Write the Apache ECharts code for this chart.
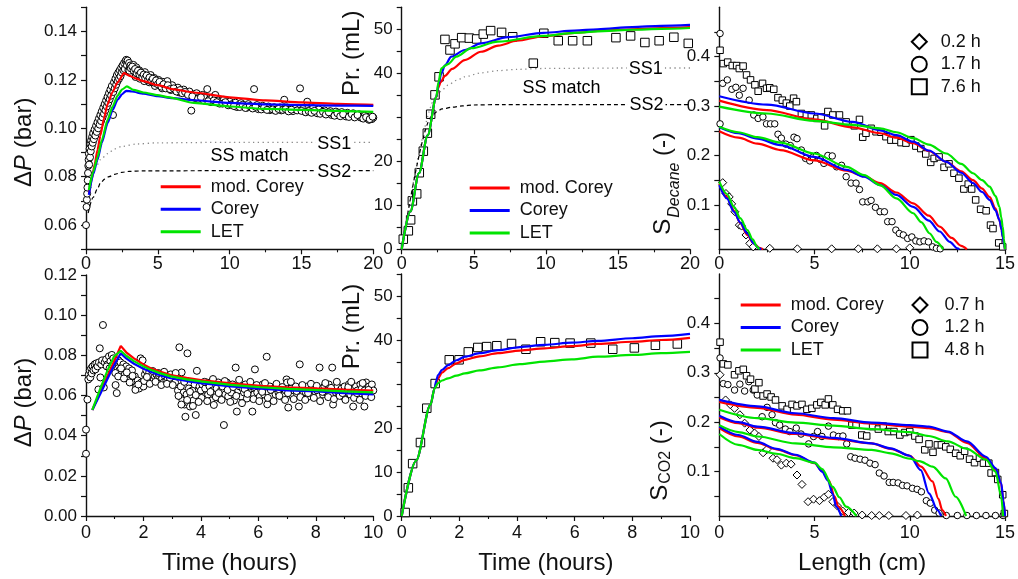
<!DOCTYPE html>
<html><head><meta charset="utf-8">
<script src="https://cdn.jsdelivr.net/npm/echarts@6/dist/echarts.min.js"></script>
<style>html,body{margin:0;padding:0;background:#fff}#c{width:1018px;height:579px}</style>
</head><body><div id="c"></div>
<script>
// ---------------- DATA ----------------
const modelNames = ['mod. Corey', 'Corey', 'LET'];
const timesDecane = ['0.2 h', '1.7 h', '7.6 h'];
const timesCO2 = ['0.7 h', '1.2 h', '4.8 h'];

const dpTopTickLabels = ['0.06', '0.08', '0.10', '0.12', '0.14'];
const dpBottomTickLabels = ['0.00', '0.02', '0.04', '0.06', '0.08', '0.10', '0.12'];
const prodTickLabels = ['0', '10', '20', '40', '50'];
const satTickLabels = ['0.1', '0.2', '0.3', '0.4'];
const satTickMarks = [0.05, 0.1, 0.15, 0.2, 0.25, 0.3, 0.35, 0.4, 0.45];

// (a) pressure drop, decane
const dpDecaneObs = [[0,0.060],[0.04,0.0675],[0.06,0.0705],[0.08,0.073],[0.1,0.0755],[0.12,0.0785],[0.14,0.0815],[0.16,0.0845],[0.18,0.087],[0.2,0.0895],[0.22,0.085],[0.25,0.0915],[0.28,0.088],[0.3,0.0935],[0.33,0.0905],[0.36,0.095],[0.4,0.0925],[0.43,0.0965],[0.47,0.094],[0.5,0.098],[0.55,0.0955],[0.6,0.0995],[0.65,0.097],[0.7,0.101],[0.75,0.0985],[0.8,0.1025],[0.85,0.100],[0.9,0.104],[0.95,0.1015],[1.0,0.1055],[1.05,0.103],[1.1,0.107],[1.15,0.1045],[1.2,0.1085],[1.25,0.106],[1.3,0.110],[1.35,0.1075],[1.4,0.1115],[1.45,0.109],[1.5,0.113],[1.55,0.1105],[1.6,0.1145],[1.65,0.112],[1.7,0.116],[1.75,0.1135],[1.8,0.1175],[1.88,0.1055],[1.9,0.115],[1.95,0.119],[2.0,0.1165],[2.05,0.1205],[2.1,0.118],[2.15,0.122],[2.2,0.1195],[2.25,0.123],[2.3,0.1205],[2.35,0.124],[2.4,0.1215],[2.45,0.125],[2.5,0.123],[2.55,0.126],[2.6,0.124],[2.65,0.127],[2.7,0.1245],[2.75,0.1278],[2.8,0.1283],[2.85,0.126],[2.9,0.128],[2.95,0.124],[3.0,0.127],[3.05,0.125],[3.1,0.126],[3.15,0.1228],[3.2,0.124],[3.3,0.1262],[3.4,0.1232],[3.45,0.1212],[3.5,0.1252],[3.6,0.1225],[3.7,0.124],[3.75,0.1205],[3.8,0.122],[3.9,0.123],[4.0,0.121],[4.05,0.1195],[4.1,0.1232],[4.2,0.1202],[4.35,0.1215],[4.4,0.119],[4.5,0.122],[4.6,0.1192],[4.75,0.1208],[4.8,0.1175],[4.9,0.1188],[5.05,0.120],[5.2,0.118],[5.3,0.1165],[5.35,0.1192],[5.5,0.1175],[5.66,0.1195],[5.8,0.117],[5.9,0.1158],[6.0,0.1178],[6.2,0.116],[6.4,0.1168],[6.5,0.1148],[6.6,0.1155],[6.8,0.116],[7.0,0.1145],[7.2,0.1152],[7.33,0.1073],[7.5,0.114],[7.6,0.1125],[7.7,0.1145],[7.9,0.113],[8.1,0.1138],[8.2,0.1115],[8.3,0.1125],[8.44,0.1162],[8.6,0.112],[8.7,0.1108],[8.8,0.1128],[9.0,0.1138],[9.2,0.1115],[9.3,0.1102],[9.4,0.111],[9.6,0.1118],[9.8,0.1105],[9.9,0.1095],[10.0,0.111],[10.2,0.110],[10.4,0.1106],[10.5,0.1088],[10.6,0.1096],[10.8,0.1104],[11.0,0.1094],[11.2,0.1085],[11.3,0.110],[11.5,0.109],[11.7,0.1162],[11.9,0.1096],[12.0,0.1079],[12.1,0.1086],[12.3,0.1093],[12.5,0.1083],[12.7,0.109],[12.8,0.1075],[12.9,0.1081],[13.1,0.1087],[13.3,0.1079],[13.5,0.1086],[13.6,0.1074],[13.8,0.1118],[14.0,0.1086],[14.2,0.1078],[14.4,0.1071],[14.5,0.1083],[14.9,0.1165],[15.1,0.108],[15.2,0.1069],[15.4,0.111],[15.6,0.1076],[15.8,0.1083],[16.0,0.107],[16.1,0.1062],[16.2,0.1078],[16.4,0.1066],[16.6,0.1074],[16.8,0.1063],[17.0,0.1071],[17.1,0.1055],[17.2,0.106],[17.4,0.1069],[17.6,0.1058],[17.8,0.1067],[18.0,0.1057],[18.1,0.1049],[18.2,0.1064],[18.4,0.1054],[18.6,0.1062],[18.8,0.1052],[19.0,0.1058],[19.1,0.1045],[19.2,0.1044],[19.4,0.1052],[19.6,0.1041],[19.7,0.1035],[19.8,0.105],[19.9,0.1038],[20.0,0.1044],
[3.02,0.1238],[3.12,0.1248],[3.22,0.1255],[3.32,0.1238],[3.42,0.1245],[3.52,0.1228],[3.62,0.1238],[3.72,0.1222],[3.82,0.123],[3.92,0.1212],[4.02,0.1222],[4.12,0.1208],[4.22,0.1218],[4.32,0.1198],[4.42,0.121],[4.55,0.1195],[4.65,0.1205],[4.78,0.1188],[4.88,0.1198],[5.0,0.1182],[5.12,0.1192],[5.25,0.1172],[5.4,0.1182],[5.55,0.1165],[5.7,0.1178],[5.85,0.1162],[6.1,0.1165],[6.3,0.1152],[6.55,0.1158],[6.7,0.1145],[6.9,0.115],[7.1,0.1138],[7.4,0.1132],[7.8,0.1122],[8.0,0.1128],[8.5,0.1112],[8.9,0.1115],[9.1,0.1108],[9.5,0.1102],[9.7,0.1108],[10.1,0.1098],[10.3,0.1092],[10.7,0.1088],[10.9,0.1097],[11.1,0.1084],[11.4,0.1092],[11.6,0.1082],[11.8,0.1089],[12.2,0.1078],[12.4,0.1086],[12.6,0.1076],[13.0,0.1078],[13.2,0.1072],[13.4,0.108],[13.7,0.1076],[13.9,0.1079],[14.1,0.107],[14.3,0.1077],[14.7,0.1074],[15.0,0.1072],[15.3,0.1066],[15.5,0.1071],[15.7,0.1064],[15.9,0.1072],[16.3,0.106],[16.5,0.1068],[16.7,0.1057],[16.9,0.1066],[17.3,0.1052],[17.5,0.1062],[17.7,0.105],[17.9,0.1058],[18.3,0.1047],[18.5,0.1058],[18.7,0.1045],[18.9,0.1055],[19.3,0.104],[19.5,0.1046],[19.75,0.1038],[19.95,0.1048]];
const dpDecaneModCorey = [[0.2,0.073],[0.4,0.079],[0.6,0.085],[0.8,0.091],[1.0,0.097],[1.25,0.104],[1.5,0.110],[1.85,0.115],[2.2,0.119],[2.65,0.1228],[3.0,0.1218],[3.5,0.1205],[4.0,0.1195],[5.0,0.1178],[6.0,0.1162],[7.5,0.1148],[10,0.1128],[12.5,0.1115],[15,0.1107],[17.5,0.1101],[20,0.1097]];
const dpDecaneCorey = [[0.2,0.0725],[0.5,0.081],[0.8,0.087],[1.1,0.094],[1.5,0.1021],[1.85,0.1075],[2.2,0.1118],[2.5,0.114],[2.8,0.1155],[3.2,0.1152],[4.0,0.1143],[5.0,0.1133],[6.0,0.1125],[7.5,0.1116],[10,0.1105],[12.5,0.1099],[15,0.1096],[17.5,0.1094],[20,0.1093]];
const dpDecaneLET = [[0.2,0.0745],[0.5,0.082],[0.8,0.088],[1.1,0.095],[1.5,0.1035],[1.85,0.109],[2.2,0.1135],[2.5,0.116],[2.85,0.1173],[3.3,0.1159],[4.0,0.1148],[5.0,0.1137],[5.7,0.1129],[7.5,0.1105],[10,0.109],[12.5,0.108],[15,0.1076],[17.5,0.1072],[20,0.1068]];
const dpDecaneSS1 = [[0.1,0.074],[0.4,0.080],[0.7,0.084],[1.0,0.087],[1.5,0.0895],[2.0,0.0915],[2.5,0.0925],[3.5,0.0935],[5,0.094],[10,0.0942],[20,0.0942]];
const dpDecaneSS2 = [[0.15,0.065],[0.5,0.0715],[0.8,0.075],[1.0,0.0773],[1.3,0.079],[1.6,0.080],[2.0,0.081],[2.5,0.0818],[3.0,0.0822],[4,0.0824],[10,0.0825],[20,0.0825]];
const annotDecaneDP = [['SS1',17.3,0.0935],['SS2',17.3,0.0818],['SS match',11.4,0.0883]];

// (b) production, decane
const prodDecaneObs = [[0.11,2.3],[0.46,4.2],[0.62,6.7],[0.74,11.0],[1.04,12.6],[1.22,17.4],[1.5,22.3],[1.78,26.4],[2.01,30.7],[2.31,35.1],[2.59,39.2],[3.0,47.7],[3.35,45.3],[3.7,46.7],[4.16,48.1],[4.69,48.0],[5.2,47.8],[5.66,48.9],[6.17,49.7],[6.93,49.3],[7.7,48.3],[9.13,42.3],[9.86,49.1],[10.86,47.4],[11.86,47.4],[12.88,47.4],[14.86,48.1],[15.88,48.5],[16.87,47.0],[17.86,47.4],[18.88,48.2],[19.88,46.8]];
const prodDecaneModCorey = [[0,0],[0.6,8.6],[1.2,17.3],[1.8,25.9],[2.4,34.6],[2.55,36.8],[2.7,38.0],[3.0,39.4],[3.5,41.0],[4.37,43.0],[5.5,44.9],[6.7,46.3],[8,47.4],[9.8,48.4],[12,49.2],[14,49.7],[16,50.0],[18,50.3],[20,50.5]];
const prodDecaneCorey = [[0,0],[0.6,8.6],[1.2,17.3],[1.8,25.9],[2.4,34.6],[2.55,37.5],[2.75,40.0],[3.0,41.8],[3.44,43.8],[4.37,45.3],[5.5,46.8],[7.37,48.2],[9.84,49.2],[12,49.7],[13.6,50.0],[16,50.5],[18,50.8],[20,51.0]];
const prodDecaneLET = [[0,0],[0.6,8.6],[1.2,17.3],[1.8,25.9],[2.4,34.6],[2.55,38.0],[2.75,41.1],[3.0,41.7],[3.21,42.1],[3.79,43.8],[4.83,45.7],[6.68,47.2],[9.84,48.5],[12,49.2],[14,49.6],[16,49.9],[18,50.1],[20,50.3]];
const prodDecaneSS1 = [[0,0],[2.4,34.6],[2.8,36.2],[3.21,37.3],[3.8,38.4],[4.37,39.2],[5.5,40.1],[6.68,40.6],[8,40.9],[10,41.1],[15,41.2],[20,41.2]];
const prodDecaneSS2 = [[0,0],[2.1,30.2],[2.4,31.2],[2.8,31.9],[3.5,32.3],[4.2,32.6],[5,32.8],[7,32.9],[20,32.9]];
const annotDecaneProd = [['SS1',16.95,40.9],['SS2',17.0,32.8],['SS match',11.1,36.6]];

// (c) decane saturation profiles
const satDecane02Obs = [[0.18,0.145],[0.35,0.123],[0.52,0.116],[0.65,0.102],[0.82,0.086],[1.05,0.059],[1.17,0.057],[1.4,0.039],[1.6,0.022],[1.78,0.015],[2.65,0.012],[4.1,0.011],[5.9,0.011],[7.3,0.011],[8.3,0.011],[9.3,0.011],[10.0,0.013]];
const satDecane17Obs = [[0.04,0.447],[0.04,0.264],[0.18,0.346],[0.42,0.353],[0.66,0.334],[0.87,0.338],[1.05,0.322],[1.25,0.336],[1.57,0.312],[1.81,0.282],[2.04,0.275],[2.29,0.278],[2.48,0.264],[2.69,0.264],[2.91,0.264],[3.08,0.243],[3.26,0.235],[3.49,0.223],[3.73,0.220],[3.92,0.237],[4.08,0.234],[4.31,0.211],[4.53,0.194],[4.75,0.189],[4.93,0.197],[5.1,0.200],[5.31,0.192],[5.49,0.184],[5.7,0.200],[5.93,0.199],[6.16,0.177],[6.42,0.180],[6.66,0.157],[6.92,0.144],[7.18,0.144],[7.36,0.131],[7.53,0.106],[7.8,0.106],[7.97,0.109],[8.2,0.095],[8.44,0.086],[8.67,0.086],[8.84,0.066],[9.07,0.066],[9.27,0.049],[9.45,0.042],[9.66,0.039],[9.89,0.032],[10.11,0.035],[10.32,0.027],[10.53,0.025],[10.75,0.027],[10.98,0.025],[11.2,0.015],[11.4,0.012],[11.6,0.011]];
const satDecane76Obs = [[0.04,0.413],[0.21,0.386],[0.44,0.389],[0.68,0.382],[0.91,0.382],[1.05,0.376],[1.25,0.381],[1.43,0.363],[1.64,0.353],[1.87,0.343],[2.04,0.330],[2.27,0.346],[2.48,0.336],[2.65,0.337],[2.86,0.334],[3.08,0.317],[3.31,0.312],[3.52,0.306],[3.7,0.300],[3.9,0.316],[4.05,0.309],[4.31,0.285],[4.57,0.282],[4.83,0.282],[5.12,0.275],[5.35,0.278],[5.53,0.260],[5.7,0.289],[5.96,0.282],[6.31,0.282],[6.66,0.268],[7.09,0.260],[7.36,0.273],[7.53,0.237],[7.7,0.245],[7.97,0.255],[8.23,0.248],[8.49,0.247],[8.75,0.238],[9.01,0.231],[9.27,0.231],[9.54,0.226],[9.8,0.225],[10.06,0.232],[10.32,0.219],[10.58,0.214],[10.84,0.203],[11.1,0.186],[11.28,0.194],[11.54,0.197],[11.8,0.176],[12.06,0.183],[12.32,0.164],[12.58,0.154],[12.84,0.132],[13.07,0.142],[13.25,0.132],[13.46,0.110],[13.72,0.091],[14.01,0.088],[14.24,0.059],[14.37,0.052],[14.67,0.023],[14.88,0.015]];
const satDecane02ModCorey = [[0,0.143],[0.4,0.116],[0.77,0.088],[1.1,0.063],[1.47,0.039],[1.8,0.022],[2.1,0.013],[2.3,0.01]];
const satDecane02Corey = [[0,0.140],[0.4,0.113],[0.77,0.086],[1.1,0.064],[1.47,0.042],[1.81,0.022],[2.05,0.013],[2.2,0.01]];
const satDecane02LET = [[0,0.147],[0.4,0.122],[0.77,0.096],[1.1,0.073],[1.47,0.049],[1.75,0.030],[1.99,0.015],[2.1,0.01]];
const satDecane17ModCorey = [[0,0.249],[1,0.236],[2,0.224],[3.21,0.211],[4.98,0.190],[6.69,0.169],[7.6,0.158],[8.44,0.144],[9.3,0.125],[10.18,0.103],[11,0.078],[11.57,0.056],[12.2,0.033],[12.7,0.017],[13.0,0.01]];
const satDecane17Corey = [[0,0.257],[1,0.245],[2,0.234],[3.21,0.221],[4.98,0.197],[6.69,0.171],[7.6,0.157],[8.44,0.140],[9.3,0.120],[10.18,0.096],[11,0.068],[11.57,0.046],[12.1,0.025],[12.5,0.012],[12.6,0.01]];
const satDecane17LET = [[0,0.258],[1,0.247],[2,0.237],[3.21,0.226],[4.98,0.204],[6.69,0.177],[7.6,0.160],[8.44,0.140],[9.3,0.113],[10.18,0.083],[10.6,0.065],[11.05,0.042],[11.4,0.025],[11.75,0.01]];
const satDecane76ModCorey = [[0,0.311],[2.5,0.292],[4.98,0.273],[7,0.257],[8.44,0.245],[9.3,0.236],[10.18,0.225],[11,0.209],[11.92,0.187],[12.7,0.168],[13.32,0.150],[13.8,0.133],[14.19,0.116],[14.5,0.093],[14.71,0.069],[14.82,0.050],[14.88,0.035],[14.95,0.02],[15,0.01]];
const satDecane76Corey = [[0,0.320],[2.5,0.303],[5,0.285],[7,0.268],[8.44,0.251],[9.3,0.241],[10.18,0.228],[11,0.210],[11.92,0.187],[12.7,0.165],[13.32,0.144],[13.8,0.126],[14.19,0.110],[14.5,0.089],[14.71,0.069],[14.82,0.050],[14.88,0.035],[14.95,0.02],[15,0.01]];
const satDecane76LET = [[0,0.299],[2.5,0.285],[4.98,0.270],[7,0.262],[8.44,0.255],[9.3,0.247],[10.18,0.235],[11,0.222],[11.92,0.204],[12.7,0.183],[13.32,0.164],[13.8,0.150],[14.19,0.137],[14.5,0.118],[14.71,0.096],[14.8,0.075],[14.88,0.056],[14.95,0.03],[15,0.01]];

// (d) pressure drop, CO2
const dpCO2Obs = [[0.0,0.031],[0.0,0.043],[0.05,0.058],[0.08,0.068],[0.1,0.0705],[0.13,0.0725],[0.15,0.069],[0.18,0.0735],[0.2,0.071],[0.23,0.0745],[0.26,0.0725],[0.3,0.0755],[0.33,0.073],[0.36,0.076],[0.4,0.0745],[0.43,0.063],[0.45,0.0765],[0.48,0.0835],[0.5,0.069],[0.53,0.0755],[0.56,0.0775],[0.59,0.0951],[0.62,0.064],[0.65,0.0765],[0.7,0.078],[0.75,0.0755],[0.8,0.0795],[0.85,0.077],[0.9,0.0802],[0.95,0.0785],[1.0,0.0755],[1.03,0.0652],[1.07,0.0612],[1.1,0.0735],[1.13,0.0775],[1.16,0.0725],[1.2,0.0765],[1.25,0.0715],[1.3,0.0755],[1.35,0.0705],[1.4,0.0745],[1.45,0.0695],[1.5,0.0735],[1.55,0.0705],[1.6,0.0725],[1.65,0.0665],[1.7,0.0695],[1.75,0.0645],[1.8,0.0675],[1.85,0.0635],[1.9,0.0785],[1.93,0.0665],[1.97,0.0775],[2.0,0.0645],[2.05,0.0705],[2.1,0.0725],[2.15,0.0695],[2.2,0.0715],[2.25,0.0685],[2.3,0.0705],[2.35,0.0675],[2.4,0.0695],[2.45,0.0705],[2.5,0.0685],[2.55,0.0695],[2.6,0.0675],[2.65,0.0685],[2.7,0.0665],[2.75,0.0695],[2.8,0.0675],[2.85,0.0685],[2.9,0.0665],[2.95,0.0705],[3.0,0.0675],[3.05,0.0685],[3.1,0.0665],[3.15,0.0695],[3.2,0.0625],[3.25,0.084],[3.28,0.0595],[3.3,0.0645],[3.33,0.0715],[3.36,0.0575],[3.4,0.0615],[3.43,0.0555],[3.46,0.0494],[3.5,0.0605],[3.53,0.081],[3.55,0.0565],[3.58,0.0635],[3.62,0.0545],[3.65,0.0595],[3.7,0.0625],[3.74,0.0575],[3.78,0.0655],[3.82,0.0503],[3.86,0.0723],[3.9,0.0605],[3.95,0.0645],[4.0,0.0625],[4.05,0.0655],[4.1,0.0595],[4.15,0.0635],[4.2,0.0665],[4.25,0.0605],[4.3,0.0645],[4.35,0.0575],[4.4,0.0625],[4.45,0.0553],[4.5,0.0605],[4.55,0.0635],[4.6,0.0665],[4.65,0.0585],[4.7,0.0625],[4.75,0.0645],[4.8,0.0453],[4.85,0.0605],[4.9,0.0665],[4.95,0.0595],[5.0,0.0635],[5.05,0.0615],[5.1,0.0655],[5.15,0.0575],[5.21,0.0739],[5.25,0.052],[5.3,0.0625],[5.35,0.0645],[5.4,0.0595],[5.45,0.0635],[5.5,0.0615],[5.55,0.0655],[5.6,0.0585],[5.65,0.0625],[5.7,0.0645],[5.79,0.052],[5.85,0.0605],[5.88,0.073],[5.92,0.0635],[5.96,0.0615],[6.0,0.0645],[6.05,0.0595],[6.1,0.0625],[6.15,0.0655],[6.2,0.0605],[6.25,0.0635],[6.29,0.0793],[6.31,0.0556],[6.35,0.0615],[6.4,0.0645],[6.45,0.0595],[6.5,0.0625],[6.55,0.0635],[6.6,0.0605],[6.65,0.0645],[6.7,0.0615],[6.75,0.0625],[6.8,0.0595],[6.85,0.0635],[6.9,0.0605],[6.95,0.0625],[6.98,0.068],[7.0,0.0665],[7.04,0.054],[7.1,0.0615],[7.15,0.0635],[7.2,0.0595],[7.25,0.0625],[7.3,0.0645],[7.35,0.0605],[7.41,0.0545],[7.44,0.0755],[7.5,0.0625],[7.55,0.0605],[7.6,0.0635],[7.65,0.0615],[7.7,0.0645],[7.75,0.0595],[7.8,0.0625],[7.85,0.0635],[7.9,0.0605],[7.95,0.0645],[8.0,0.0615],[8.05,0.0625],[8.1,0.0595],[8.13,0.0739],[8.2,0.0635],[8.25,0.0605],[8.3,0.0645],[8.35,0.0615],[8.4,0.0625],[8.45,0.0655],[8.5,0.0605],[8.57,0.0739],[8.6,0.0555],[8.65,0.0635],[8.7,0.0615],[8.75,0.0645],[8.8,0.0605],[8.85,0.0625],[8.9,0.0635],[8.95,0.0595],[9.0,0.0645],[9.05,0.0615],[9.1,0.0625],[9.15,0.0655],[9.2,0.0605],[9.3,0.0545],[9.35,0.0615],[9.4,0.0645],[9.45,0.0625],[9.5,0.0605],[9.55,0.0655],[9.6,0.0635],[9.69,0.0545],[9.7,0.0625],[9.75,0.0665],[9.8,0.0605],[9.85,0.0645],[9.9,0.0615],[9.95,0.0655],[10.0,0.0625],
[4.02,0.0588],[4.12,0.0668],[4.22,0.0572],[4.33,0.0618],[4.42,0.0682],[4.52,0.0592],[4.62,0.0612],[4.72,0.0578],[4.83,0.0672],[4.93,0.0628],[5.02,0.0568],[5.12,0.0642],[5.23,0.0598],[5.33,0.0678],[5.43,0.0562],[5.52,0.0632],[5.62,0.0608],[5.72,0.0668],[5.83,0.0582],[5.94,0.0652],[6.03,0.0572],[6.13,0.0618],[6.23,0.0662],[6.33,0.0588],[6.43,0.0628],[6.53,0.0572],[6.63,0.0658],[6.73,0.0598],[6.83,0.0642],[6.93,0.0578],[7.03,0.0612],[7.13,0.0668],[7.23,0.0582],[7.33,0.0622],[7.46,0.0592],[7.53,0.0652],[7.63,0.0578],[7.73,0.0612],[7.83,0.0658],[7.93,0.0588],[8.03,0.0648],[8.15,0.0572],[8.23,0.0618],[8.33,0.0662],[8.43,0.0592],[8.53,0.0638],[8.63,0.0582],[8.73,0.0668],[8.83,0.0598],[8.93,0.0612],[9.03,0.0578],[9.13,0.0642],[9.23,0.0668],[9.33,0.0588],[9.43,0.0612],[9.53,0.0578],[9.63,0.0662],[9.73,0.0598],[9.83,0.0628],[9.93,0.0592],[2.02,0.0672],[2.12,0.0692],[2.22,0.0658],[2.32,0.0722],[2.42,0.0668],[2.52,0.0712],[2.62,0.0652],[2.72,0.0718],[2.82,0.0658],[2.92,0.0688],[3.02,0.0652],[3.12,0.0712],[3.22,0.0598],[3.32,0.0555],[3.42,0.0668],[3.52,0.0578],[3.62,0.0618],[3.72,0.0548],[3.82,0.0602],[3.92,0.0568],[1.02,0.0712],[1.12,0.0695],[1.22,0.0735],[1.32,0.0685],[1.42,0.0715],[1.52,0.0665],[1.62,0.0698],[1.72,0.0628],[1.82,0.0655],[0.72,0.0745],[0.82,0.0735],[0.92,0.0752]];
const dpCO2ModCorey = [[0.22,0.0528],[0.5,0.0618],[0.8,0.0714],[1.0,0.0778],[1.21,0.0847],[1.4,0.0815],[1.67,0.0785],[2.0,0.0755],[2.25,0.0736],[2.6,0.0718],[2.95,0.0702],[3.5,0.0688],[4.0,0.0677],[5.04,0.066],[6.08,0.0648],[7,0.0641],[8.05,0.0635],[9,0.063],[10,0.0625]];
const dpCO2Corey = [[0.22,0.0528],[0.5,0.0609],[0.8,0.0698],[1.0,0.0757],[1.21,0.081],[1.4,0.0785],[1.67,0.0758],[2.0,0.0733],[2.25,0.0718],[2.6,0.0700],[2.95,0.0686],[3.5,0.0672],[4.0,0.0662],[5.04,0.0645],[6.08,0.0634],[7,0.0626],[8.05,0.062],[9,0.0612],[10,0.0606]];
const dpCO2LET = [[0.22,0.0528],[0.5,0.0635],[0.75,0.0725],[0.97,0.0793],[1.21,0.0823],[1.4,0.0798],[1.67,0.0771],[2.0,0.0745],[2.25,0.0728],[2.6,0.071],[2.95,0.0695],[3.5,0.068],[4.0,0.067],[5.04,0.0653],[6.08,0.0641],[7,0.0633],[8.05,0.0627],[9,0.0621],[10,0.0616]];

// (e) production, CO2
const prodCO2Obs = [[0.12,0.8],[0.23,6.4],[0.38,11.9],[0.65,16.7],[0.87,24.5],[1.16,30.1],[1.65,35.5],[1.99,35.5],[2.31,37.3],[2.64,38.3],[2.95,38.5],[3.3,38.7],[3.81,39.2],[4.31,37.9],[4.82,39.6],[5.31,39.4],[5.84,39.3],[6.56,39.3],[7.32,37.9],[8.07,38.2],[8.8,38.8],[9.56,39.1]];
const prodCO2ModCorey = [[0,0],[0.5,12.6],[1.0,25.3],[1.14,29.0],[1.2,30.2],[1.26,31.3],[1.4,32.6],[1.61,33.6],[1.9,34.7],[2.19,35.5],[2.7,36.3],[3.34,37.0],[4.1,37.6],[4.96,38.1],[5.9,38.6],[6.81,39.1],[8,39.6],[9,40.0],[10,40.5]];
const prodCO2Corey = [[0,0],[0.5,12.6],[1.0,25.3],[1.14,29.0],[1.2,30.8],[1.26,32.0],[1.4,33.2],[1.61,34.3],[1.9,35.4],[2.19,36.2],[2.7,37.0],[3.34,37.7],[4.1,38.4],[4.96,38.9],[5.9,39.4],[6.81,39.8],[8,40.4],[9,40.9],[10,41.4]];
const prodCO2LET = [[0,0],[0.5,12.6],[1.0,25.3],[1.14,29.0],[1.26,30.2],[1.4,30.8],[1.61,31.3],[1.9,31.9],[2.19,32.4],[2.7,33.1],[3.34,33.8],[4.1,34.5],[4.96,35.1],[5.9,35.6],[6.81,36.2],[8,36.6],[9,37.0],[10,37.3]];

// (f) CO2 saturation profiles
const satCO2_07Obs = [[0.04,0.296],[0.33,0.245],[0.59,0.235],[0.8,0.228],[1.08,0.215],[1.33,0.198],[1.61,0.184],[1.85,0.178],[2.08,0.171],[2.3,0.138],[2.51,0.145],[2.82,0.127],[3.03,0.124],[3.26,0.113],[3.52,0.117],[3.77,0.115],[4.08,0.093],[4.34,0.074],[4.66,0.039],[4.95,0.044],[5.26,0.041],[5.51,0.048],[5.73,0.054],[5.96,0.039],[6.21,0.030],[6.48,0.020],[6.78,0.017],[7.08,0.016],[7.5,0.012],[8.0,0.011],[8.4,0.011],[8.9,0.011],[9.8,0.011],[10.4,0.012]];
const satCO2_12Obs = [[0.04,0.330],[0.21,0.278],[0.45,0.276],[0.80,0.265],[1.08,0.277],[1.33,0.263],[1.55,0.282],[1.78,0.265],[1.99,0.255],[2.25,0.211],[2.51,0.230],[2.77,0.215],[2.95,0.199],[3.17,0.194],[3.47,0.186],[3.7,0.181],[4.04,0.188],[4.29,0.176],[4.69,0.156],[4.95,0.171],[5.16,0.181],[5.39,0.171],[5.73,0.192],[5.99,0.174],[6.26,0.171],[6.49,0.172],[6.69,0.156],[6.9,0.130],[7.13,0.127],[7.39,0.125],[7.65,0.123],[7.91,0.117],[8.18,0.114],[8.4,0.097],[8.65,0.091],[8.92,0.078],[9.13,0.078],[9.39,0.077],[9.62,0.072],[9.86,0.071],[10.14,0.066],[10.39,0.064],[10.61,0.059],[10.87,0.041],[11.08,0.036],[11.31,0.022],[11.54,0.016],[11.92,0.011],[12.5,0.011],[13.0,0.011],[13.5,0.011],[14.0,0.011],[14.5,0.011],[14.9,0.011]];
const satCO2_48Obs = [[0.04,0.362],[0.21,0.318],[0.45,0.316],[0.8,0.296],[1.03,0.304],[1.26,0.307],[1.43,0.294],[1.64,0.287],[1.87,0.267],[2.08,0.280],[2.3,0.253],[2.51,0.257],[2.72,0.251],[2.95,0.245],[3.3,0.233],[3.56,0.226],[3.82,0.236],[4.08,0.233],[4.34,0.236],[4.6,0.226],[4.86,0.228],[5.12,0.235],[5.33,0.240],[5.56,0.235],[5.73,0.247],[5.96,0.235],[6.21,0.226],[6.48,0.223],[6.73,0.223],[6.96,0.194],[7.18,0.194],[7.48,0.174],[7.74,0.172],[8.05,0.191],[8.35,0.186],[8.61,0.192],[8.87,0.181],[9.17,0.181],[9.48,0.174],[9.74,0.179],[10.0,0.181],[10.27,0.172],[10.49,0.165],[10.79,0.144],[11.01,0.156],[11.22,0.139],[11.45,0.154],[11.66,0.154],[11.89,0.150],[12.13,0.145],[12.41,0.137],[12.65,0.132],[12.88,0.141],[13.14,0.125],[13.4,0.118],[13.66,0.127],[13.87,0.117],[14.15,0.117],[14.27,0.097],[14.5,0.098],[14.62,0.084],[14.88,0.053],[14.97,0.015]];
const satCO2_07ModCorey = [[0,0.188],[1,0.171],[2,0.158],[3,0.145],[4,0.133],[5,0.117],[5.4,0.101],[5.75,0.082],[6.05,0.050],[6.25,0.029],[6.6,0.01]];
const satCO2_07Corey = [[0,0.191],[1,0.174],[2,0.160],[3,0.146],[4,0.134],[5,0.118],[5.4,0.100],[5.7,0.082],[5.95,0.055],[6.14,0.029],[6.4,0.01]];
const satCO2_07LET = [[0,0.176],[1,0.154],[2,0.144],[3,0.136],[4,0.127],[5,0.118],[5.4,0.105],[5.96,0.069],[6.3,0.048],[6.66,0.029],[7.2,0.01]];
const satCO2_12ModCorey = [[0,0.210],[1,0.198],[2,0.189],[4,0.176],[6,0.166],[8,0.157],[9,0.146],[10,0.132],[10.6,0.110],[11.19,0.080],[11.5,0.045],[11.71,0.022],[11.9,0.01]];
const satCO2_12Corey = [[0,0.213],[1,0.200],[2,0.191],[4,0.178],[6,0.168],[8,0.157],[9,0.147],[10,0.132],[10.58,0.103],[11.01,0.056],[11.45,0.022],[11.65,0.01]];
const satCO2_12LET = [[0,0.194],[1,0.180],[2,0.171],[4,0.157],[6,0.149],[8,0.144],[9,0.137],[10,0.126],[10.5,0.121],[11.2,0.110],[11.89,0.086],[12.41,0.049],[12.96,0.01]];
const satCO2_48ModCorey = [[0,0.241],[2,0.229],[4,0.215],[6,0.205],[8,0.197],[10,0.191],[11,0.188],[12,0.180],[13,0.158],[14,0.127],[14.5,0.104],[14.8,0.075],[14.92,0.04],[15,0.01]];
const satCO2_48Corey = [[0,0.245],[2,0.232],[4,0.218],[6,0.208],[8,0.199],[10,0.194],[11,0.191],[12,0.181],[13,0.161],[14,0.130],[14.5,0.107],[14.8,0.077],[14.92,0.04],[15,0.01]];
const satCO2_48LET = [[0,0.225],[2,0.208],[4,0.199],[6,0.193],[8,0.186],[10,0.180],[11,0.172],[12,0.161],[13,0.146],[14,0.124],[14.5,0.100],[14.8,0.05],[14.9,0.01]];

// ---------------- STYLE / BUILD ----------------
const FONT = '"Liberation Sans", Arial, Helvetica, sans-serif';
const TXT = '#111';
const modelColors = ['#ff0000', '#0000ff', '#00e400'];

const grids = [
  {left: 86, top: 7.3, width: 287.3, height: 242},
  {left: 401.7, top: 7.3, width: 288.3, height: 242},
  {left: 719.3, top: 7.3, width: 287.4, height: 242},
  {left: 86, top: 275, width: 287.3, height: 241},
  {left: 401.7, top: 274, width: 288.3, height: 242},
  {left: 719.3, top: 274, width: 287.4, height: 242}
];

const axisLineStyle = {show: true, lineStyle: {color: '#111', width: 1.4}};
const tickStyle = {show: true, length: 5, lineStyle: {color: '#111', width: 1.2}};
const minorTickStyle = (n) => ({show: true, splitNumber: n, length: 3, lineStyle: {color: '#111', width: 1.1}});

function xAxis(gi, max, interval, minorSplit, name, margin) {
  const ax = {
    type: 'value', gridIndex: gi, min: 0, max: max, interval: interval,
    axisLine: axisLineStyle, axisTick: tickStyle, minorTick: minorTickStyle(minorSplit),
    splitLine: {show: false},
    axisLabel: {fontSize: 18, color: TXT, fontFamily: FONT, margin: margin, showMinLabel: true, showMaxLabel: true}
  };
  if (name) {
    ax.name = name; ax.nameLocation = 'middle'; ax.nameGap = 35;
    ax.nameTextStyle = {fontSize: 24, color: TXT, fontFamily: FONT};
  }
  return ax;
}
function yAxisBase(gi, min, max) {
  return {
    type: 'value', gridIndex: gi, min: min, max: max,
    axisLine: axisLineStyle, axisTick: tickStyle, splitLine: {show: false},
    axisLabel: {fontSize: 17, color: TXT, fontFamily: FONT, margin: 9, showMinLabel: true, showMaxLabel: true},
    nameLocation: 'middle'
  };
}
function dpAxis(gi, min, max, labels, pad) {
  const ax = yAxisBase(gi, min, max);
  ax.interval = 0.01;
  ax.axisLabel.formatter = v => { const s = v.toFixed(2); return labels.includes(s) ? s : ''; };
  ax.name = 'Δ{i|P} (bar)';
  ax.nameGap = 50;
  ax.nameTextStyle = {fontSize: 24, color: TXT, fontFamily: FONT, padding: pad,
    rich: {i: {fontSize: 24, fontStyle: 'italic', color: TXT, fontFamily: FONT}}};
  return ax;
}
function prodAxis(gi, pad) {
  const ax = yAxisBase(gi, 0, 55);
  ax.interval = 5;
  ax.axisLabel.formatter = v => { const s = String(Math.round(v)); return (Math.abs(v - Math.round(v)) < 1e-6 && prodTickLabels.includes(s)) ? s : ''; };
  ax.name = 'Pr. (mL)';
  ax.nameGap = 37;
  ax.nameTextStyle = {fontSize: 24, color: TXT, fontFamily: FONT, padding: pad};
  return ax;
}
function satAxis(gi, sub, italic, subPad, gap, pad) {
  const ax = yAxisBase(gi, 0.01, 0.5);
  ax.axisLabel.customValues = satTickLabels.map(Number);
  ax.axisLabel.formatter = v => v.toFixed(1);
  ax.axisTick = Object.assign({}, tickStyle, {customValues: satTickMarks});
  ax.name = '{s|S}{sub|' + sub + '}{s| (-)}';
  ax.nameGap = gap;
  ax.nameTextStyle = {color: TXT, fontFamily: FONT, padding: pad,
    rich: {
      s: {fontSize: 24, lineHeight: 24, verticalAlign: 'top', color: TXT, fontFamily: FONT},
      sub: {fontSize: 16, lineHeight: 16, fontStyle: italic ? 'italic' : 'normal', verticalAlign: 'top', padding: [subPad, 0, 0, 1], color: TXT, fontFamily: FONT}
    }};
  return ax;
}

const xAxes = [
  xAxis(0, 20, 5, 2, null, 6),
  xAxis(1, 20, 5, 2, null, 6),
  xAxis(2, 15, 5, 2, null, 6),
  xAxis(3, 10, 2, 2, 'Time (hours)', 8),
  xAxis(4, 10, 2, 2, 'Time (hours)', 8),
  xAxis(5, 15, 5, 2, 'Length (cm)', 8)
];
const yAxes = [
  dpAxis(0, 0.05, 0.15, dpTopTickLabels, [0, 28, 0, 0]),
  prodAxis(1, [0, 0, 0, 150]),
  satAxis(2, 'Decane', true, 15, 42, [0, 110, 0, 0]),
  dpAxis(3, 0, 0.12, dpBottomTickLabels, [0, 14, 0, 0]),
  prodAxis(4, [0, 0, 0, 137]),
  satAxis(5, 'CO2', false, 9, 47, [0, 131, 0, 0])
];

const series = [];
function addScatter(name, data, gi, symbol, size) {
  series.push({
    type: 'scatter', name: name, data: data, xAxisIndex: gi, yAxisIndex: gi,
    symbol: symbol, symbolSize: size, z: 2, silent: true, clip: false,
    itemStyle: {color: '#fff', borderColor: '#000', borderWidth: 1, opacity: 1}
  });
}
function addLine(name, data, gi, color, extra) {
  series.push(Object.assign({
    type: 'line', name: name, data: data, xAxisIndex: gi, yAxisIndex: gi,
    showSymbol: false, symbol: 'none', z: 3, silent: true,
    smooth: 0.3, smoothMonotone: 'x',
    lineStyle: {color: color, width: 2.2}, itemStyle: {color: color}
  }, extra || {}));
}
function addModels(sets, gi, extra) {
  sets.forEach((d, k) => addLine(modelNames[k], d, gi, modelColors[k], extra));
}
function addAnnotations(list, gi) {
  series.push({
    type: 'scatter', name: 'annot' + gi, xAxisIndex: gi, yAxisIndex: gi, z: 6, silent: true,
    symbol: 'circle', symbolSize: 0.5, itemStyle: {color: '#fff', opacity: 1},
    data: list.map(a => ({name: a[0], value: [a[1], a[2]],
      label: {backgroundColor: a[0] === 'SS match' ? 'transparent' : '#fff'}})),
    label: {show: true, position: [0, 0], align: 'center', verticalAlign: 'middle',
      formatter: '{b}', fontSize: 18, color: '#000', textBorderWidth: 0, opacity: 1,
      fontFamily: FONT, padding: [1, 2]}
  });
}
const ss1Style = {lineStyle: {color: '#8a8a8a', width: 1.3, type: [1.3, 3.5]}, z: 2.5};
const ss2Style = {lineStyle: {color: '#000', width: 1.2, type: [4, 3]}, z: 2.5};

// (a)
addScatter('ΔP decane', dpDecaneObs, 0, 'circle', 7);
addLine('SS1', dpDecaneSS1, 0, '#8a8a8a', ss1Style);
addLine('SS2', dpDecaneSS2, 0, '#000', ss2Style);
addModels([dpDecaneModCorey, dpDecaneCorey, dpDecaneLET], 0, {smooth: 0.2});
addAnnotations(annotDecaneDP, 0);
// (b)
addScatter('Pr. decane', prodDecaneObs, 1, 'rect', 8.5);
addLine('SS1', prodDecaneSS1, 1, '#8a8a8a', ss1Style);
addLine('SS2', prodDecaneSS2, 1, '#000', ss2Style);
addModels([prodDecaneModCorey, prodDecaneCorey, prodDecaneLET], 1);
addAnnotations(annotDecaneProd, 1);
// (c)
addScatter(timesDecane[0], satDecane02Obs, 2, 'diamond', 8);
addScatter(timesDecane[1], satDecane17Obs, 2, 'circle', 6.5);
addScatter(timesDecane[2], satDecane76Obs, 2, 'rect', 6.5);
addModels([satDecane02ModCorey, satDecane02Corey, satDecane02LET], 2);
addModels([satDecane17ModCorey, satDecane17Corey, satDecane17LET], 2);
addModels([satDecane76ModCorey, satDecane76Corey, satDecane76LET], 2);
// (d)
addScatter('ΔP CO2', dpCO2Obs, 3, 'circle', 7);
addModels([dpCO2ModCorey, dpCO2Corey, dpCO2LET], 3, {smooth: false});
// (e)
addScatter('Pr. CO2', prodCO2Obs, 4, 'rect', 8.5);
addModels([prodCO2ModCorey, prodCO2Corey, prodCO2LET], 4);
// (f)
addScatter(timesCO2[0], satCO2_07Obs, 5, 'diamond', 8);
addScatter(timesCO2[1], satCO2_12Obs, 5, 'circle', 6.5);
addScatter(timesCO2[2], satCO2_48Obs, 5, 'rect', 6.5);
addModels([satCO2_07ModCorey, satCO2_07Corey, satCO2_07LET], 5);
addModels([satCO2_12ModCorey, satCO2_12Corey, satCO2_12LET], 5);
addModels([satCO2_48ModCorey, satCO2_48Corey, satCO2_48LET], 5);

const lineLegend = (left, top) => ({
  data: modelNames, left: left, top: top, orient: 'vertical', icon: 'rect', padding: 0,
  itemWidth: 40, itemHeight: 3, itemGap: 2.5, selectedMode: false,
  textStyle: {fontSize: 18, lineHeight: 20, color: TXT, fontFamily: FONT, padding: [0, 0, 0, 5]}
});
const markerLegend = (names, left, top, textPad) => ({
  data: names, left: left, top: top, orient: 'vertical', padding: 0,
  itemWidth: 15, itemHeight: 15, itemGap: 2.5, selectedMode: false,
  textStyle: {fontSize: 18, lineHeight: 20, color: TXT, fontFamily: FONT, padding: [0, 0, 0, textPad]}
});

const chart = echarts.init(document.getElementById('c'), null, {renderer: 'canvas'});
chart.setOption({
  animation: false,
  backgroundColor: '#fff',
  textStyle: {fontFamily: FONT},
  grid: grids,
  xAxis: xAxes,
  yAxis: yAxes,
  legend: [
    lineLegend(160.7, 176.7),
    lineLegend(469.7, 178),
    lineLegend(740.7, 295),
    markerLegend(timesDecane, 910.8, 31.7, 9),
    markerLegend(timesCO2, 911.5, 295, 12)
  ],
  series: series
});
</script></body></html>
